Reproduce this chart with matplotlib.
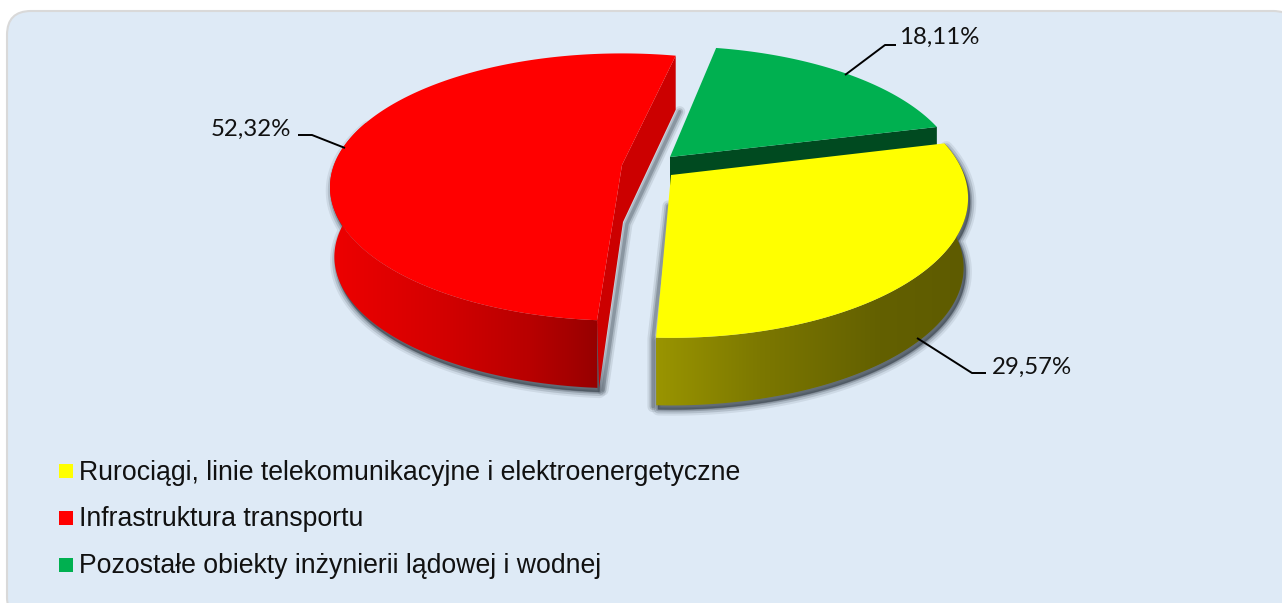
import numpy as np
import matplotlib
matplotlib.use('Agg')
import matplotlib.pyplot as plt
from matplotlib.colors import LinearSegmentedColormap
from matplotlib.patches import FancyBboxPatch, Polygon, Rectangle

categories = ['Rurociągi, linie telekomunikacyjne i elektroenergetyczne',
              'Infrastruktura transportu',
              'Pozostałe obiekty inżynierii lądowej i wodnej']
values = [29.57, 52.32, 18.11]

# wyglad
colors = ['#ffff00', '#ff0000', '#00b050']
centers = [(671, 175), (622, 165), (670, 157)]
radii = [(293, 136), (288, 130), (286, 129)]
PERSP = 0.165
START = 14
RED_TURN = -1.7
DEPTH = 70
SHADOW = '#3c4650'

fig = plt.figure(figsize=(12.82, 6.03), dpi=100)
ax = fig.add_axes([0, 0, 1, 1])
ax.set_xlim(0, 1282)
ax.set_ylim(603, 0)
ax.axis('off')

ax.add_patch(FancyBboxPatch((7, 11), 1290, 610, boxstyle='round,pad=0,rounding_size=24',
                            fc='#deeaf6', ec='#d9d9d9', lw=1.5, zorder=1))


def rim(i, a1, a2, scale=1.0, dy=0):
    t = np.radians(np.linspace(a1, a2, 200))
    u, v = np.cos(t), np.sin(t)
    w = 1 + PERSP * v
    x = centers[i][0] + scale * radii[i][0] * u / w
    y = centers[i][1] - scale * radii[i][1] * v / w + dy
    return np.column_stack([x, y])


def shadow(pts, z):
    off = pts + np.array([2, 4])
    for lw, al in [(9, 0.10), (6, 0.18), (3, 0.28), (1, 0.4)]:
        ax.add_patch(Polygon(off, closed=True, fc=SHADOW, ec=SHADOW, lw=lw, alpha=al,
                             joinstyle='round', zorder=z))


def edge_shadow(pts, z, dx, dy):
    off = np.array(pts) + np.array([dx, dy])
    for lw, al in [(8, 0.12), (5, 0.2), (2.5, 0.3)]:
        ax.plot(off[:, 0], off[:, 1], color=SHADOW, lw=lw, alpha=al,
                solid_capstyle='round', zorder=z)


def gradient_wall(pts, x_stops, col_stops, z):
    x0, x1 = x_stops[0], x_stops[-1]
    pos = [(p - x0) / (x1 - x0) for p in x_stops]
    cmap = LinearSegmentedColormap.from_list('w', list(zip(pos, col_stops)))
    im = ax.imshow(np.linspace(0, 1, 512)[None, :], cmap=cmap, aspect='auto',
                   extent=(x0, x1, 603, 0), zorder=z, interpolation='bilinear')
    im.set_clip_path(Polygon(pts, closed=True, transform=ax.transData))


edges = START - np.cumsum([0] + values) * 3.6
y_a1, y_a2 = edges[0], edges[1]
r_a1, r_a2 = edges[1] + RED_TURN, edges[2] + RED_TURN
g_a1, g_a2 = edges[2], edges[3]

# wierzch kazdego wycinka
y_top = np.vstack([[centers[0]], rim(0, y_a1, y_a2)])
r_top = np.vstack([[centers[1]], rim(1, r_a1, r_a2)])
g_top = np.vstack([[centers[2]], rim(2, g_a1, g_a2)])

# sciany boczne
y_wall = np.vstack([rim(0, y_a2, 14), rim(0, 14, y_a2, 0.985, DEPTH)])
r_wall = np.vstack([rim(1, r_a1, -200), rim(1, -200, r_a1, 0.985, DEPTH)])

r_end = rim(1, r_a2, r_a2 + 0.1)[0]
r_start = rim(1, r_a1, r_a1 + 0.1)[0]
r_inner = np.array([r_end, r_end + [0, 54], np.array(centers[1]) + [1, 57],
                    r_start + [2, DEPTH - 2], r_start, centers[1]])

g_end = rim(2, g_a2, g_a2 + 0.1)[0]
g_wall = np.array([centers[2], g_end, g_end + [0, 40], np.array(centers[2]) + [0, 60]])
y_start = rim(0, y_a2, y_a2 + 0.1)[0]

# cienie
shadow(r_wall, 2)
edge_shadow(r_inner[1:4], 2, 4, 2)
shadow(y_wall, 2)
edge_shadow([centers[0] + np.array([0, 30]), y_start, y_start + [0, DEPTH - 2]], 2, -3, 1)

# sciany
gradient_wall(r_wall, [330, 440, 530, 612], ['#ee0000', '#d40000', '#b80000', '#900000'], 3)
ax.add_patch(Polygon(r_inner, closed=True, fc='#cc0000', ec='none', zorder=4))
ax.add_patch(Polygon(g_wall, closed=True, fc='#004a20', ec='none', zorder=4))
gradient_wall(y_wall, [655, 760, 880, 968], ['#9a9500', '#7c7800', '#636000', '#5e5b00'], 5)

# wierzchy
ax.add_patch(Polygon(r_top, closed=True, fc=colors[1], ec='none', zorder=6))
ax.add_patch(Polygon(g_top, closed=True, fc=colors[2], ec='none', zorder=6))
ax.add_patch(Polygon(y_top, closed=True, fc=colors[0], ec='none', zorder=7))

# etykiety
labels = [f'{v:.2f}%'.replace('.', ',') for v in values]
label_pos = [(992, 367, 'left'), (291, 129, 'right'), (899, 37, 'left')]
leaders = [[(917, 338), (972, 373), (986, 373)],
           [(345, 148), (312, 135), (298, 135)],
           [(845, 75), (885, 45), (896, 45)]]
for lab, (x, y, ha), ld in zip(labels, label_pos, leaders):
    ax.text(x, y, lab, family='Lato', fontsize=17.3, color='#111111', ha=ha, va='center', zorder=9)
    ld = np.array(ld)
    ax.plot(ld[:, 0], ld[:, 1], color='black', lw=1.4, zorder=9, solid_capstyle='butt')

# legenda
for name, col, y, ty in zip(categories, colors, [471, 518, 565], [472, 518, 565]):
    ax.add_patch(Rectangle((59, y - 7), 14, 14, fc=col, ec='none', zorder=9))
    ax.text(79, ty + 1, name, family='Liberation Sans', fontsize=19.15, color='#111111',
            va='center', zorder=9)

ax.set_xlim(0, 1282)
ax.set_ylim(603, 0)
fig.savefig('out.png', dpi=100, facecolor='white')
